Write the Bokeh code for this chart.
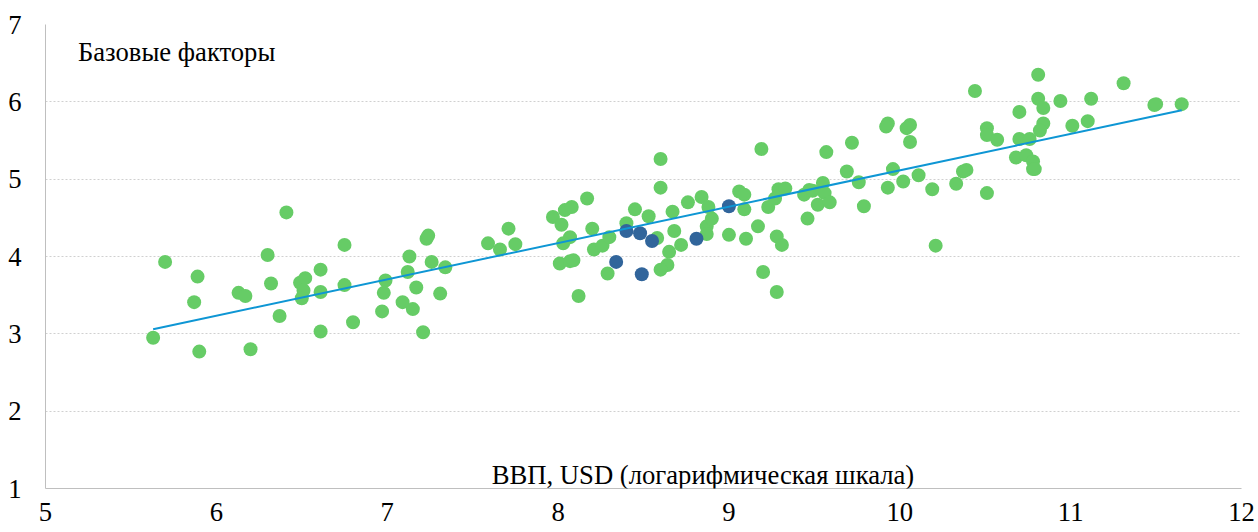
from bokeh.plotting import figure
from bokeh.models import FixedTicker, Label, Range1d, ColumnDataSource
from bokeh.embed import file_html
from bokeh.resources import INLINE

# ---- data ----
green_x = [5.63, 5.70, 5.87, 5.89, 5.90, 6.13, 6.17, 6.20, 6.30, 6.32, 6.37, 6.41, 6.49, 6.52,
           6.51, 6.50, 6.61, 6.61, 6.61, 6.75, 6.75, 6.80, 6.99, 6.98, 6.97, 7.13, 7.12, 7.09,
           7.15, 7.17, 7.21, 7.23, 7.24, 7.26, 7.34, 7.31, 7.59, 7.66, 7.71, 7.75, 7.97, 8.02,
           8.04, 8.08, 8.17, 8.20, 8.07, 8.03, 8.01, 8.07, 8.09, 8.12, 8.21, 8.26, 8.30, 8.29,
           8.40, 8.45, 8.53, 8.58, 8.60, 8.60, 8.67, 8.68, 8.65, 8.64, 8.60, 8.72, 8.76, 8.84,
           8.87, 8.88, 8.90, 8.87, 9.06, 9.09, 9.09, 9.00, 9.10, 9.17, 9.19, 9.20, 9.28, 9.28,
           9.31, 9.23, 9.27, 9.29, 9.33, 9.44, 9.46, 9.47, 9.49, 9.52, 9.55, 9.56, 9.59, 9.57,
           9.69, 9.72, 9.76, 9.79, 9.93, 9.92, 10.06, 10.04, 10.06, 9.93, 9.96, 10.02, 10.11,
           10.19, 10.21, 10.33, 10.39, 10.37, 10.44, 10.51, 10.51, 10.51, 10.57, 10.68, 10.70,
           10.70, 10.76, 10.74, 10.78, 10.78, 10.79, 10.81, 10.81, 10.84, 10.84, 10.82, 10.94,
           11.01, 11.10, 11.12, 11.31, 11.49, 11.50, 11.65]
green_y = [2.95, 3.93, 3.41, 3.74, 2.77, 3.53, 3.49, 2.80, 4.02, 3.65, 3.23, 4.57, 3.66, 3.72,
           3.56, 3.46, 3.83, 3.54, 3.03, 4.15, 3.63, 3.15, 3.69, 3.53, 3.29, 4.00, 3.80, 3.41,
           3.32, 3.60, 3.02, 4.23, 4.27, 3.93, 3.86, 3.52, 4.17, 4.09, 4.36, 4.16, 4.51, 4.41,
           4.60, 4.64, 4.75, 4.36, 4.25, 4.17, 3.91, 3.94, 3.95, 3.49, 4.09, 4.14, 4.25, 3.78,
           4.43, 4.61, 4.52, 4.24, 4.89, 5.26, 4.58, 4.33, 4.06, 3.89, 3.83, 4.15, 4.70, 4.77,
           4.39, 4.64, 4.49, 4.29, 4.84, 4.80, 4.61, 4.28, 4.23, 4.39, 5.39, 3.80, 3.54, 4.26,
           4.15, 4.64, 4.75, 4.87, 4.88, 4.80, 4.49, 4.86, 4.85, 4.67, 4.95, 4.82, 4.70, 5.35,
           5.10, 5.47, 4.96, 4.65, 5.72, 5.68, 5.70, 5.66, 5.48, 4.89, 5.13, 4.97, 5.05,
           4.87, 4.14, 4.94, 5.12, 5.10, 6.14, 4.82, 5.66, 5.57, 5.51, 5.28, 5.87,
           5.52, 5.52, 5.31, 5.23, 5.13, 5.13, 6.35, 6.04, 5.92, 5.72, 5.63, 6.01,
           5.69, 5.75, 6.04, 6.24, 5.96, 5.97, 5.97]

blue_x = [8.34, 8.40, 8.48, 8.49, 8.55, 8.81, 9.00]
blue_y = [3.93, 4.33, 4.30, 3.77, 4.20, 4.23, 4.65]

trend_x = [5.63, 11.65]
trend_y = [3.06, 5.89]

x_ticks = [5, 6, 7, 8, 9, 10, 11, 12]
y_ticks = [1, 2, 3, 4, 5, 6, 7]

title_text = "Базовые факторы"
xlabel_text = "ВВП, USD (логарифмическая шкала)"

FONT = "Liberation Serif"
FSIZE = "26.67px"

p = figure(width=1258, height=532, x_range=Range1d(5, 12), y_range=Range1d(1, 7),
           output_backend="svg", toolbar_location=None,
           min_border_left=45, min_border_right=17, min_border_top=24, min_border_bottom=44)
p.outline_line_color = None
p.background_fill_color = "white"
p.border_fill_color = "white"

p.xaxis.ticker = FixedTicker(ticks=x_ticks)
p.yaxis.ticker = FixedTicker(ticks=y_ticks)
for ax in (p.xaxis, p.yaxis):
    ax.major_tick_line_color = None
    ax.minor_tick_line_color = None
    ax.major_tick_in = 0
    ax.major_tick_out = 0
    ax.minor_tick_in = 0
    ax.minor_tick_out = 0
    ax.axis_line_color = "#BFBFBF"
    ax.axis_line_width = 1
    ax.major_label_text_font = FONT
    ax.major_label_text_font_size = FSIZE
    ax.major_label_text_color = "#000000"
p.xaxis.major_label_standoff = 14
p.yaxis.major_label_standoff = 24

p.xgrid.grid_line_color = None
p.ygrid.grid_line_color = "#D0D0D0"
p.ygrid.grid_line_dash = "2 2"
p.ygrid.grid_line_width = 1

src_g = ColumnDataSource(dict(x=green_x, y=green_y))
src_b = ColumnDataSource(dict(x=blue_x, y=blue_y))
p.scatter("x", "y", source=src_g, size=14, fill_color="#66CC66", line_color=None)
p.scatter("x", "y", source=src_b, size=14, fill_color="#31659B", line_color=None)
p.line(trend_x, trend_y, line_color="#0E96D4", line_width=2)

p.add_layout(Label(x=5.19, y=6.638, text=title_text, text_font=FONT, text_font_size=FSIZE,
                   text_color="#000000", text_baseline="alphabetic", text_align="left"))
p.add_layout(Label(x=8.848, y=1.175, text=xlabel_text, text_font=FONT, text_font_size=FSIZE,
                   text_color="#000000", text_baseline="alphabetic", text_align="center"))

open("out.html", "w").write(file_html(p, INLINE))
